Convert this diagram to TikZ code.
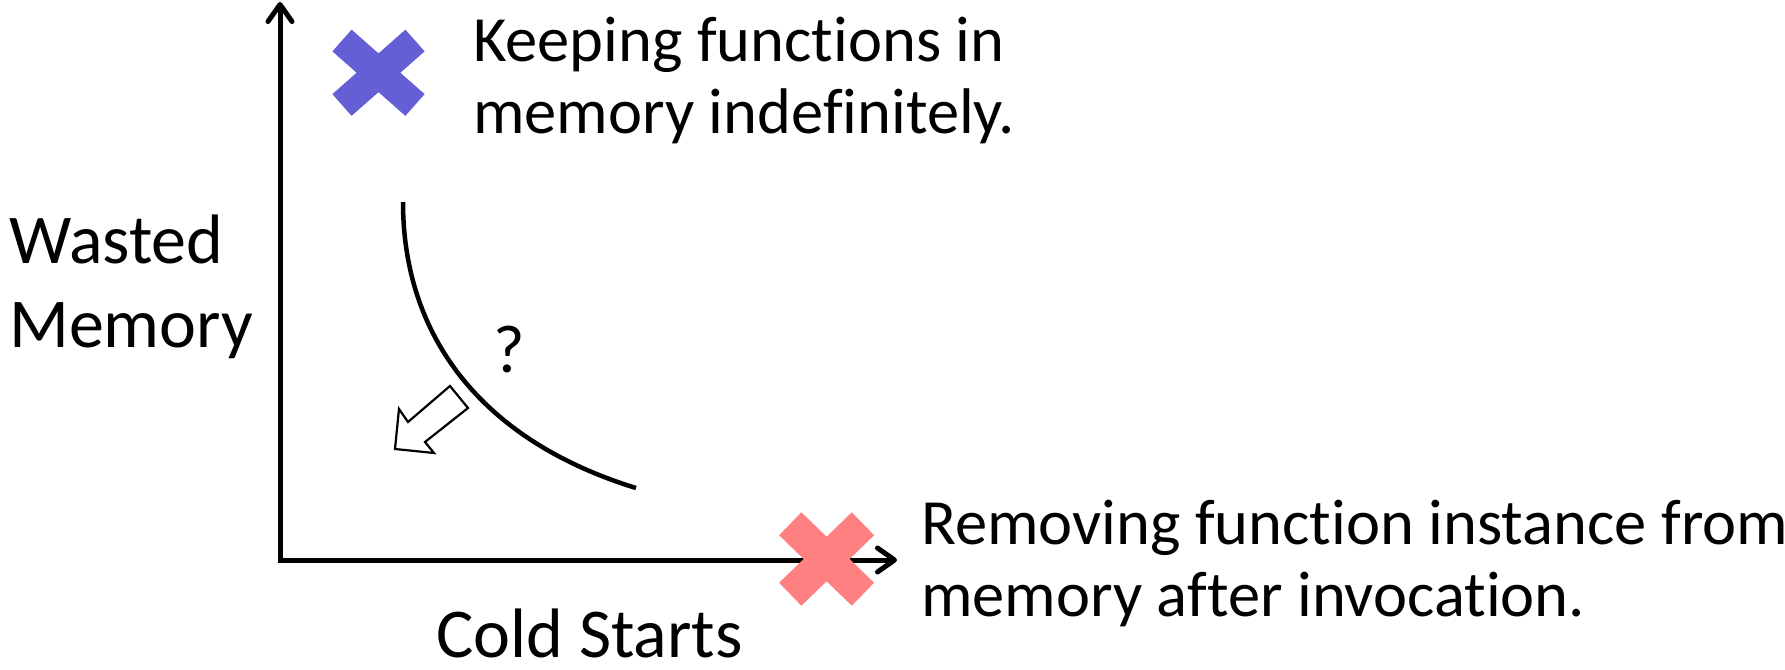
\documentclass[tikz,border=0pt]{standalone}
\usepackage{fontspec}
\setmainfont{Carlito}[Ligatures={NoCommon}]
\usetikzlibrary{arrows.meta,shapes.misc}
\definecolor{keepcol}{RGB}{100,95,213}
\definecolor{dropcol}{RGB}{255,128,128}
\begin{document}
\begin{tikzpicture}[x=1bp,y=-1bp,
  axisline/.style={line width=5bp,
    {Straight Barb[length=17bp,width=24bp,round]}-{Straight Barb[length=17bp,width=24bp,round]}},
  tradeoff/.style={line width=4.5bp},
  hollow/.style={line width=2.2bp, fill=white, line join=miter},
  crossmark/.style={cross out, inner sep=0pt, outer sep=0pt},
  label/.style={inner sep=0pt, anchor=base west, align=left,
    font=\fontsize{64.5bp}{72bp}\selectfont},
  biglabel/.style={label, font=\fontsize{70bp}{84bp}\selectfont}]
\useasboundingbox (0,0) rectangle (1785,670);

% axes
\coordinate (origin) at (280,560);
\coordinate (ytip) at (280,2);
\coordinate (xtip) at (897,560);
\draw[axisline] (ytip) -- (origin) -- (xtip);

% trade-off curve
\coordinate (c0) at (403,202);
\coordinate (c1) at (636,488);
\draw[tradeoff] (c0) .. controls (403,335) and (480,440) .. (c1);
\node[inner sep=0pt, anchor=base, font=\fontsize{68bp}{72bp}\selectfont] (q) at (509,372) {?};

% hollow arrow pointing towards the origin
\draw[hollow] (395,449) -- (399,409) -- (408,422) -- (450,386) -- (468,408)
  -- (425,442) -- (434,453) -- cycle;

% the two extreme policies
\node[crossmark, draw=keepcol, line width=29bp, minimum width=73bp, minimum height=64.5bp]
  (keep) at (378.5,72.75) {};
\node[crossmark, draw=dropcol, line width=32bp, minimum width=72.7bp, minimum height=70.5bp]
  (drop) at (826.6,559) {};

% labels (anchored at the baseline of their last line)
\node[label] (keeptxt) at (473,134) {Keeping functions in\\memory indefinitely.};
\node[label] (droptxt) at (921,616) {Removing function instance from\\memory after invocation.};
\node[biglabel] (ylab) at (9,347) {Wasted\\Memory};
\node[biglabel] (xlab) at (436,657) {Cold Starts};
\end{tikzpicture}
\end{document}
